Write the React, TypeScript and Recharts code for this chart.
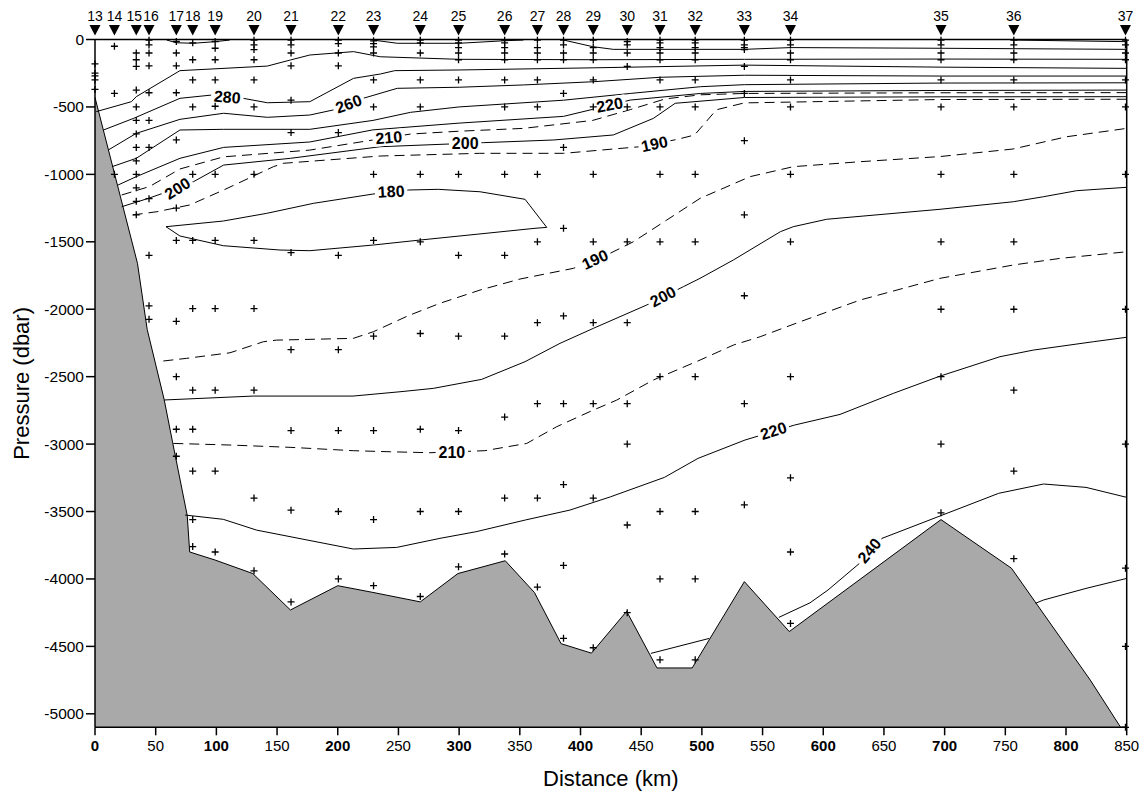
import { ComposedChart, Line, Area, Scatter, XAxis, YAxis, Label } from 'recharts';

const FONT = '"Liberation Sans", Arial, sans-serif';

// stations along the section (km)
const stationNames = ['13', '14', '15', '16', '17', '18', '19', '20', '21', '22', '23', '24', '25', '26', '27', '28', '29', '30', '31', '32', '33', '34', '35', '36', '37'];
const stationKm = [0, 16, 34, 44.5, 67, 80.5, 99, 131, 161.5, 200.5, 229.5, 268, 299.5, 337.5, 364.5, 386, 410.5, 438.5, 465.5, 494.5, 535, 573, 697, 757, 849];

// bottle depths (dbar) per station
const sampleDepths = [
  [-180, -250, -270, -300, -370],
  [-50, -400, -1000],
  [-100, -150, -200, -375, -500, -600, -700, -800, -900, -1000, -1100, -1200, -1300],
  [-5, -40, -100, -195, -395, -600, -800, -1180, -1600, -1975, -2075],
  [-15, -100, -195, -395, -745, -1250, -1490, -2090, -2500, -2890, -3090],
  [-25, -150, -300, -500, -1000, -1490, -1995, -2600, -2890, -3200, -3560, -3760],
  [-15, -65, -150, -300, -495, -1000, -1490, -1995, -2600, -3200, -3800],
  [-5, -40, -75, -150, -300, -500, -1000, -1490, -1995, -2600, -3400, -3940],
  [-5, -40, -100, -195, -450, -690, -1580, -2300, -2900, -3490, -4170],
  [-5, -30, -100, -195, -690, -1600, -2300, -2900, -3500, -4000],
  [-10, -30, -55, -100, -300, -500, -1000, -1490, -2200, -2900, -3560, -4050],
  [-5, -25, -100, -300, -500, -1000, -1500, -2180, -2890, -3500, -4130],
  [-5, -25, -60, -100, -150, -300, -1000, -1600, -2200, -2900, -3500, -3910],
  [-5, -25, -60, -100, -150, -300, -500, -1000, -1600, -2200, -2800, -3400, -3815],
  [-5, -60, -100, -150, -300, -500, -1000, -1500, -2100, -2700, -3400, -4060],
  [-5, -40, -100, -150, -400, -800, -1400, -2050, -2700, -3300, -3900, -4440],
  [-5, -60, -100, -150, -300, -500, -1000, -1500, -2100, -2700, -3400, -4510],
  [-15, -40, -100, -200, -500, -1500, -2100, -2700, -3000, -3600, -4250],
  [-5, -25, -60, -100, -150, -300, -500, -1000, -1500, -2500, -3500, -4000, -4600],
  [-5, -25, -60, -100, -150, -300, -500, -1000, -1500, -2500, -3500, -4000, -4600],
  [-5, -40, -60, -75, -200, -400, -750, -1300, -1900, -2700, -3450],
  [-5, -40, -100, -150, -300, -500, -1000, -1500, -2500, -3250, -3800, -4330],
  [-5, -40, -100, -150, -300, -500, -1000, -1500, -2000, -2500, -3000, -3510],
  [-5, -40, -100, -150, -300, -500, -1000, -1500, -2000, -2600, -3200, -3850],
  [-5, -40, -100, -150, -300, -500, -1000, -2000, -3000, -3920, -4500, -5100],
];

// bottom profile [km, dbar]
const bathymetry = [
  [0, -430], [35, -1660], [43, -2150], [57, -2670], [64, -2990], [76, -3530], [78, -3800], [99, -3860],
  [130, -3960], [161, -4230], [200, -4050], [229, -4100], [268, -4170], [299, -3960], [338, -3865],
  [362, -4100], [384, -4480], [409, -4550], [438, -4240], [463, -4660], [492, -4660], [535, -4020],
  [572, -4390], [697, -3560], [755, -3920], [820, -4750], [845, -5100], [850, -5100],
];

// contour lines [km, dbar]
const cSurf1 = [[59, -4], [67, -24], [81, -28], [99, -16], [111, -4]];
const cSurf2 = [[229, -4], [249, -28], [300, -28], [338, -9], [353, -4]];
const cSurf3 = [[386, -4], [410, -53], [427, -73], [535, -73], [573, -60], [697, -65], [850, -73]];
const cSurf4 = [[756, -4], [850, -16]];
const c300 = [[1, -535], [30, -461], [34, -424], [70, -231], [142, -197], [161, -152], [177, -115], [213, -90], [235, -128], [300, -147], [411, -150], [535, -147], [697, -145], [850, -147]];
const c280 = [[7, -671], [32, -584], [70, -436], [96, -412], [122, -436], [142, -469], [177, -461], [213, -288], [235, -256], [247, -231], [300, -226], [411, -210], [535, -190], [697, -205], [850, -214]];
const c260 = [[11, -819], [34, -696], [70, -592], [106, -547], [142, -577], [177, -560], [196, -523], [221, -436], [249, -362], [300, -354], [353, -337], [411, -313], [466, -280], [535, -265], [697, -271], [850, -271]];
const c240up = [[14, -943], [34, -881], [70, -671], [106, -666], [177, -666], [229, -600], [260, -540], [300, -500], [386, -450], [441, -400], [499, -350], [535, -335], [697, -323], [850, -321]];
const c220up = [[19, -1079], [34, -1017], [70, -881], [106, -800], [177, -760], [229, -670], [300, -620], [386, -570], [410, -518], [441, -449], [499, -400], [535, -385], [697, -378], [850, -375]];
const c210up = [[22, -1153], [45, -1090], [70, -960], [106, -870], [177, -820], [229, -745], [260, -701], [300, -680], [353, -659], [410, -600], [441, -520], [470, -440], [499, -410], [535, -400], [697, -395], [850, -394]];
const c200up = [[22, -1240], [44, -1178], [56, -1140], [81, -1055], [106, -931], [161, -881], [235, -795], [320, -765], [378, -745], [427, -708], [460, -585], [478, -473], [535, -430], [697, -425], [850, -424]];
const c190up = [[31, -1301], [51, -1277], [78, -1227], [106, -1116], [147, -943], [155, -918], [235, -864], [317, -844], [386, -844], [449, -795], [480, -740], [494, -708], [512, -521], [535, -470], [697, -445], [850, -443]];
const c180 = [[58.5, -1388], [105.7, -1346], [141.5, -1289], [179.9, -1215], [229, -1146], [258.1, -1116], [282.8, -1111], [317.2, -1129], [354.3, -1185], [372.2, -1393], [362.5, -1400], [267.8, -1487], [229.3, -1524], [177.1, -1566], [152.4, -1561], [105.7, -1529], [70, -1457], [58.5, -1388]];
const c190low = [[56.3, -2384], [75.6, -2364], [111.2, -2323], [138.7, -2241], [149.7, -2229], [212.8, -2216], [229.3, -2167], [258.1, -2048], [284.2, -1956], [317.2, -1858], [350.2, -1776], [394.1, -1697], [424.3, -1586], [443.5, -1500], [471, -1339], [498.5, -1178], [539.7, -1017], [575.3, -943], [630.6, -906], [696.2, -868], [756.3, -812], [800.6, -721], [850, -659]];
const c200low = [[56.8, -2673], [130.2, -2644], [212.6, -2644], [251.3, -2612], [278.7, -2587], [318.6, -2520], [354.3, -2389], [383.1, -2253], [410.5, -2142], [454.5, -1969], [484.7, -1833], [498.5, -1771], [525.9, -1635], [564.7, -1425], [575.3, -1388], [602.8, -1333], [696.2, -1259], [756.6, -1203], [781.3, -1166], [808.8, -1121], [850, -1096]];
const c210low = [[64.5, -2995], [111.2, -3007], [160.7, -3024], [212.8, -3049], [243.3, -3057], [276, -3064], [321.2, -3049], [355.7, -2995], [380.4, -2871], [410.5, -2748], [429.8, -2674], [460, -2525], [498.5, -2377], [525.9, -2266], [548, -2204], [580.9, -2093], [630.3, -1932], [696.2, -1771], [756.6, -1672], [795.1, -1623], [850, -1574]];
const c220low = [[74.2, -3526], [105.7, -3558], [133.2, -3638], [212.8, -3778], [248.6, -3766], [284.2, -3699], [313.8, -3650], [354.5, -3563], [391.4, -3489], [424.7, -3391], [469.1, -3247], [496.8, -3106], [535.5, -2970], [576.3, -2859], [613.8, -2780], [657.7, -2624], [696.2, -2496], [745.6, -2352], [773.1, -2303], [822.5, -2241], [850, -2208]];
const c240a = [[458, -4552], [506, -4441]];
const c240b = [[563.4, -4285], [589.1, -4177], [603.9, -4082], [629.9, -3884], [648.4, -3699], [694.5, -3539], [744.5, -3365], [781.5, -3296], [816.5, -3321], [850, -3395]];
const cDeep = [[775, -4180], [781.5, -4156], [816.5, -4070], [850, -3996]];

const solidContours = [cSurf1, cSurf2, cSurf3, cSurf4, c300, c280, c260, c240up, c220up, c200up, c180, c200low, c220low, c240a, c240b, cDeep];
const dashedContours = [c210up, c190up, c190low, c210low];

const contourLabels = [
  { km: 109, p: -428, text: '280', angle: 5 },
  { km: 209, p: -478, text: '260', angle: -20 },
  { km: 242, p: -728, text: '210', angle: -5 },
  { km: 68, p: -1105, text: '200', angle: -32 },
  { km: 305, p: -770, text: '200', angle: 0 },
  { km: 424, p: -485, text: '220', angle: -10 },
  { km: 461, p: -775, text: '190', angle: -12 },
  { km: 244, p: -1128, text: '180', angle: -3 },
  { km: 412, p: -1633, text: '190', angle: -25 },
  { km: 468, p: -1907, text: '200', angle: -28 },
  { km: 294, p: -3059, text: '210', angle: 0 },
  { km: 559, p: -2903, text: '220', angle: -18 },
  { km: 638, p: -3790, text: '240', angle: -50 },
];

const xTicks = [0, 50, 100, 150, 200, 250, 300, 350, 400, 450, 500, 550, 600, 650, 700, 750, 800, 850];
const yTicks = [0, -500, -1000, -1500, -2000, -2500, -3000, -3500, -4000, -4500, -5000];

const toPts = (arr: number[][]) => arr.map(([km, p]) => ({ km, p }));

const bathyPts = toPts(bathymetry);
const stationPts = stationKm.map((km, i) => ({ km, p: 0, name: stationNames[i] }));
const samplePts = sampleDepths.flatMap((ds, i) => ds.map((p) => ({ km: stationKm[i], p })));

const StationShape = (props: any) => {
  const { cx, cy, payload } = props;
  // 15 and 16 sit very close together, nudge their numbers apart a little
  const dx = payload.name === '15' ? -2 : payload.name === '16' ? 2 : 0;
  return (
    <g>
      <path d={`M${cx - 5.5},${cy - 14.5} L${cx + 5.5},${cy - 14.5} L${cx},${cy - 4} Z`} fill="#000" />
      <text x={cx + dx} y={cy - 23.5} textAnchor="middle" dominantBaseline="central" fontSize={14} fontFamily={FONT} fill="#000">
        {payload.name}
      </text>
    </g>
  );
};

const CrossShape = (props: any) => {
  const { cx, cy } = props;
  return <path d={`M${cx - 3.5},${cy} H${cx + 3.5} M${cx},${cy - 3.5} V${cy + 3.5}`} stroke="#000" strokeWidth={1.3} />;
};

const ContourLabel = (props: any) => {
  const { cx, cy, payload } = props;
  const w = payload.text.length * 9.5 + 4;
  return (
    <g transform={`rotate(${payload.angle} ${cx} ${cy})`}>
      <rect x={cx - w / 2} y={cy - 8} width={w} height={16} fill="#fff" />
      <text x={cx} y={cy} textAnchor="middle" dominantBaseline="central" fontSize={16} fontWeight="bold" fontFamily={FONT} fill="#000">
        {payload.text}
      </text>
    </g>
  );
};

const XTick = (props: any) => {
  const { x, y, payload } = props;
  return (
    <text x={x} y={y} dy="0.71em" textAnchor="middle" fontSize={15} fontFamily={FONT} fill="#000" fontWeight={payload.value % 100 === 0 ? 'bold' : 'normal'}>
      {payload.value}
    </text>
  );
};

const YTick = (props: any) => {
  const { x, y, payload } = props;
  return (
    <text x={x} y={y} dy="0.35em" textAnchor="end" fontSize={15.5} fontFamily={FONT} fill="#000">
      {payload.value}
    </text>
  );
};

const App = () => (
  <div style={{ position: 'absolute', left: 0, top: 0, width: 1144, height: 792, background: '#fff' }}>
    <ComposedChart width={1144} height={792} margin={{ top: 29.5, right: 7.3, bottom: 0, left: 0 }}>
      <XAxis
        dataKey="km"
        type="number"
        domain={[0, 850]}
        ticks={xTicks}
        interval={0}
        height={64.7}
        tickSize={8}
        tickMargin={5}
        tick={<XTick />}
        stroke="#000"
        strokeWidth={1.5}
      >
        <Label
          content={(p: any) => (
            <text x={p.viewBox.x + p.viewBox.width / 2} y={p.viewBox.y + 51} textAnchor="middle" dominantBaseline="central" fontSize={22} fontFamily={FONT} fill="#000">
              Distance (km)
            </text>
          )}
        />
      </XAxis>
      <XAxis xAxisId="top" orientation="top" type="number" dataKey="km" domain={[0, 850]} ticks={xTicks} interval={0} height={10} tickSize={8} tick={false} stroke="#000" strokeWidth={1.5} />
      <YAxis
        dataKey="p"
        type="number"
        domain={[-5100, 0]}
        ticks={yTicks}
        interval={0}
        width={95}
        tickSize={9}
        tickMargin={2}
        tick={<YTick />}
        stroke="#000"
        strokeWidth={1.5}
      >
        <Label
          content={(p: any) => {
            const cx = p.viewBox.x + 22;
            const cy = p.viewBox.y + p.viewBox.height / 2;
            return (
              <text x={cx} y={cy} transform={`rotate(-90 ${cx} ${cy})`} textAnchor="middle" dominantBaseline="central" fontSize={22} fontFamily={FONT} fill="#000">
                Pressure (dbar)
              </text>
            );
          }}
        />
      </YAxis>
      <YAxis yAxisId="r" orientation="right" type="number" dataKey="p" domain={[-5100, 0]} ticks={yTicks} interval={0} width={10} tickSize={9} tick={false} stroke="#000" strokeWidth={1.5} />

      <Area data={bathyPts} dataKey="p" type="linear" baseValue={-5100} fill="#a9a9a9" fillOpacity={1} stroke="#000" strokeWidth={1} dot={false} activeDot={false} isAnimationActive={false} />

      {solidContours.map((c, i) => (
        <Line key={`s${i}`} data={toPts(c)} dataKey="p" type="linear" stroke="#000" strokeWidth={1} dot={false} activeDot={false} isAnimationActive={false} />
      ))}
      {dashedContours.map((c, i) => (
        <Line key={`d${i}`} data={toPts(c)} dataKey="p" type="linear" stroke="#000" strokeWidth={1} strokeDasharray="10 6" dot={false} activeDot={false} isAnimationActive={false} />
      ))}

      <Scatter data={contourLabels} dataKey="p" shape={<ContourLabel />} isAnimationActive={false} />
      <Scatter data={samplePts} dataKey="p" shape={<CrossShape />} isAnimationActive={false} />
      <Scatter data={stationPts} dataKey="p" shape={<StationShape />} isAnimationActive={false} />
    </ComposedChart>
  </div>
);

export default App;
